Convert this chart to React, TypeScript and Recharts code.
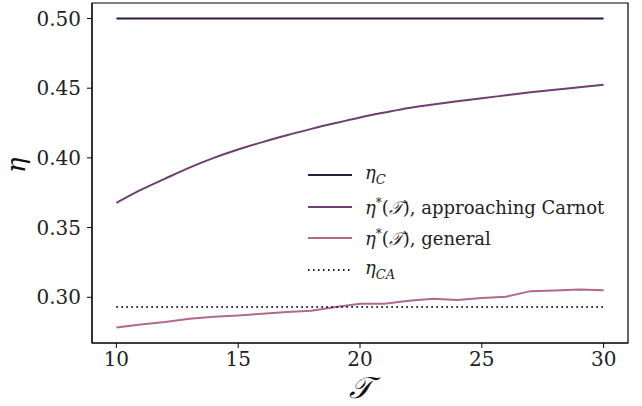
import { LineChart, Line, XAxis, YAxis, ReferenceArea } from "recharts";

const tau = [10, 11, 12, 13, 14, 15, 16, 17, 18, 19, 20, 21, 22, 23, 24, 25, 26, 27, 28, 29, 30];
const approaching = [
  0.3677, 0.3770, 0.3851, 0.3930, 0.4000, 0.4060, 0.4113, 0.4162, 0.4208, 0.4250, 0.4290,
  0.4325, 0.4358, 0.4383, 0.4406, 0.4428, 0.4449, 0.4470, 0.4489, 0.4507, 0.4525,
];
const general = [
  0.2784, 0.2804, 0.2823, 0.2846, 0.2861, 0.2870, 0.2882, 0.2894, 0.2904, 0.2930, 0.2954,
  0.2954, 0.2975, 0.2989, 0.2981, 0.2994, 0.3004, 0.3044, 0.3049, 0.3056, 0.3051,
];
const etaC = 0.5;
const etaCA = 0.293;
const xTicks = [10, 15, 20, 25, 30];
const yTicks = [0.3, 0.35, 0.4, 0.45, 0.5];

const data = tau.map((t, i) => ({
  t,
  etaC,
  approaching: approaching[i],
  general: general[i],
  etaCA,
}));

const COLORS = {
  etaC: "#2c1b3d",
  approaching: "#6f3e74",
  general: "#b1698f",
  etaCA: "#1d1430",
};

const FONT = "DejaVu Serif";

const It = ({ children }: { children: React.ReactNode }) => (
  <span style={{ fontStyle: "italic" }}>{children}</span>
);
const CalT = () => <span style={{ fontStyle: "italic" }}>𝒯</span>;

const legendRows = [
  { key: "etaC", dash: undefined, label: <><It>η</It><sub style={{ fontSize: 13 }}><It>C</It></sub></> },
  { key: "approaching", dash: undefined, label: <><It>η</It><sup style={{ fontSize: 12 }}>*</sup>(<CalT />), approaching Carnot</> },
  { key: "general", dash: undefined, label: <><It>η</It><sup style={{ fontSize: 12 }}>*</sup>(<CalT />), general</> },
  { key: "etaCA", dash: "1.5 3.5", label: <><It>η</It><sub style={{ fontSize: 13 }}><It>CA</It></sub></> },
];

function LegendBox() {
  return (
    <div style={{ position: "absolute", left: 303, top: 159, fontFamily: FONT, fontSize: 18, color: "#222" }}>
      {legendRows.map((r) => (
        <div key={r.key} style={{ display: "flex", alignItems: "center", height: 31.7 }}>
          <svg width={62} height={10} style={{ flex: "none" }}>
            <line
              x1={5}
              x2={49}
              y1={5}
              y2={5}
              stroke={COLORS[r.key as keyof typeof COLORS]}
              strokeWidth={2}
              strokeDasharray={r.dash}
            />
          </svg>
          <span style={{ lineHeight: 1, whiteSpace: "nowrap" }}>{r.label}</span>
        </div>
      ))}
    </div>
  );
}

export default function App() {
  return (
    <div style={{ position: "absolute", left: 0, top: 0, width: 642, height: 406, background: "#fff" }}>
      <LineChart width={642} height={406} data={data} margin={{ top: 3, right: 14, bottom: 0, left: 0 }}>
        <XAxis
          dataKey="t"
          type="number"
          domain={[9, 31]}
          ticks={xTicks}
          allowDataOverflow
          height={63}
          stroke="#000"
          tickSize={5}
          tickMargin={4}
          tick={{ fill: "#222", fontSize: 20, fontFamily: FONT }}
          label={{ value: "𝒯", position: "insideBottom", offset: 8, style: { fontSize: 30, fontStyle: "italic", fontFamily: FONT, fill: "#111" } }}
        />
        <YAxis
          type="number"
          domain={[0.2672, 0.5111]}
          ticks={yTicks}
          allowDataOverflow
          width={92}
          stroke="#000"
          tickSize={5}
          tickMargin={6}
          tickFormatter={(v: number) => v.toFixed(2)}
          tick={{ fill: "#222", fontSize: 20, fontFamily: FONT }}
          label={{ value: "η", angle: -90, position: "insideLeft", offset: 16, style: { fontSize: 26, fontStyle: "italic", fontFamily: FONT, fill: "#111" } }}
        />
        <ReferenceArea x1={9} x2={31} y1={0.2672} y2={0.5111} fill="none" stroke="#000" strokeWidth={1.2} ifOverflow="visible" />
        <Line dataKey="etaC" stroke={COLORS.etaC} strokeWidth={2} dot={false} isAnimationActive={false} />
        <Line dataKey="approaching" type="monotone" stroke={COLORS.approaching} strokeWidth={2} dot={false} isAnimationActive={false} />
        <Line dataKey="general" stroke={COLORS.general} strokeWidth={2} dot={false} isAnimationActive={false} />
        <Line dataKey="etaCA" stroke={COLORS.etaCA} strokeWidth={2} strokeDasharray="1.5 3.5" dot={false} isAnimationActive={false} />
      </LineChart>
      <LegendBox />
    </div>
  );
}
